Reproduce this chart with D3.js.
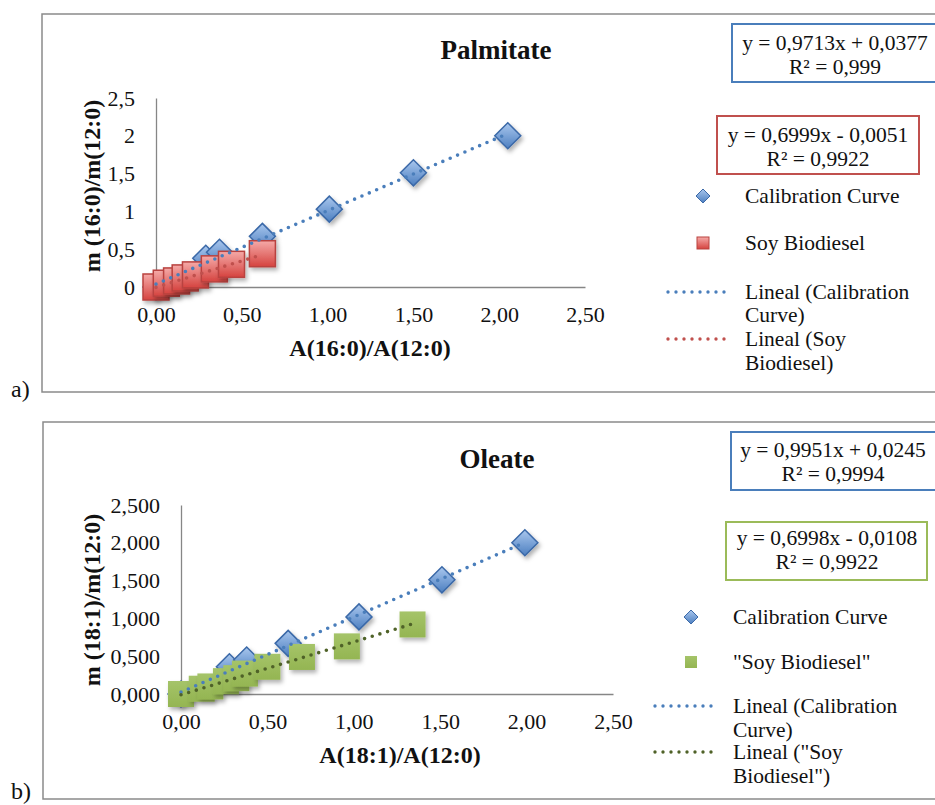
<!DOCTYPE html>
<html>
<head>
<meta charset="utf-8">
<script src="https://cdn.jsdelivr.net/npm/d3@7"></script>
<style>
  html, body { margin: 0; padding: 0; background: #fff; }
  svg { display: block; }
  text { font-family: "Liberation Serif", "Times New Roman", serif; fill: #111; }
</style>
</head>
<body>
<script>
// ---- data ----
const palCalX = [0, 0.29, 0.37, 0.62, 1.01, 1.50, 2.05];
const palCalY = [0, 0.38, 0.46, 0.67, 1.03, 1.51, 2.00];
const palSoyX = [0, 0.06, 0.12, 0.17, 0.23, 0.34, 0.44, 0.62];
const palSoyY = [0, 0.05, 0.08, 0.12, 0.16, 0.24, 0.30, 0.44];

const oleCalX = [0, 0.28, 0.38, 0.62, 1.03, 1.51, 1.99];
const oleCalY = [0, 0.36, 0.45, 0.67, 1.02, 1.51, 2.00];
const oleSoyX = [0, 0.12, 0.17, 0.26, 0.32, 0.37, 0.50, 0.70, 0.96, 1.34];
const oleSoyY = [0, 0.07, 0.10, 0.17, 0.21, 0.27, 0.36, 0.49, 0.63, 0.92];

// trendline coefficients [slope, intercept] as printed on the chart
const palCalFit = [0.9713, 0.0377];
const palSoyFit = [0.6999, -0.0051];
const oleCalFit = [0.9951, 0.0245];
const oleSoyFit = [0.6998, -0.0108];

const xTicks = [0, 0.5, 1, 1.5, 2, 2.5];
const yTicks = [0, 0.5, 1, 1.5, 2, 2.5];

const W = 935, H = 805;
const svg = d3.select('body').append('svg').attr('width', W).attr('height', H);
const defs = svg.append('defs');

const shadow = defs.append('filter').attr('id', 'shadow')
  .attr('x', '-50%').attr('y', '-50%').attr('width', '200%').attr('height', '200%');
shadow.append('feDropShadow').attr('dx', 2).attr('dy', 3).attr('stdDeviation', 2)
  .attr('flood-color', '#000').attr('flood-opacity', 0.3);

function grad(id, top, bottom) {
  const g = defs.append('linearGradient').attr('id', id)
    .attr('x1', 0).attr('y1', 0).attr('x2', 0).attr('y2', 1);
  g.append('stop').attr('offset', '0%').attr('stop-color', top);
  g.append('stop').attr('offset', '100%').attr('stop-color', bottom);
}
grad('gBlue', '#a9c7ee', '#4d7fc0');
grad('gRed', '#f5aaa8', '#d5433f');
grad('gGreen', '#a5c469', '#94b552');

const diamond = r => `M0,${-r}L${r},0L0,${r}L${-r},0Z`;

function drawPanel(cfg) {
  const g = svg.append('g');

  // outer frame
  g.append('rect')
    .attr('x', cfg.frame[0]).attr('y', cfg.frame[1])
    .attr('width', cfg.frame[2]).attr('height', cfg.frame[3])
    .attr('fill', 'none').attr('stroke', '#8a8a8a').attr('stroke-width', 1.5);

  const x = d3.scaleLinear().domain([0, 2.5]).range(cfg.xRange);
  const y = d3.scaleLinear().domain([0, 2.5]).range(cfg.yRange);

  // axes
  const xAxis = g.append('g').attr('transform', `translate(0,${cfg.yRange[0]})`)
    .call(d3.axisBottom(x).tickValues(xTicks).tickSize(0).tickPadding(19)
      .tickFormat(d => d.toFixed(2).replace('.', ',')));
  const yAxis = g.append('g').attr('transform', `translate(${cfg.xRange[0]},0)`)
    .call(d3.axisLeft(y).tickValues(yTicks).tickSize(0).tickPadding(21)
      .tickFormat(cfg.yFmt));
  [xAxis, yAxis].forEach(a => {
    a.select('.domain').attr('stroke', '#868686').attr('stroke-width', 1.3);
    a.selectAll('text').attr('font-size', 22)
      .style('font-family', '"Liberation Serif", serif').attr('fill', '#111');
  });

  // titles
  g.append('text').attr('x', cfg.title[1]).attr('y', cfg.title[2])
    .attr('text-anchor', 'middle').attr('font-weight', 'bold').attr('font-size', 27)
    .text(cfg.title[0]);
  g.append('text').attr('x', cfg.xTitle[1]).attr('y', cfg.xTitle[2])
    .attr('text-anchor', 'middle').attr('font-weight', 'bold').attr('font-size', 24)
    .text(cfg.xTitle[0]);
  g.append('text')
    .attr('transform', `translate(${cfg.yTitle[1]},${cfg.yTitle[2]}) rotate(-90)`)
    .attr('text-anchor', 'middle').attr('font-weight', 'bold').attr('font-size', 24)
    .text(cfg.yTitle[0]);

  const cal = cfg.calX.map((v, i) => ({ x: v, y: cfg.calY[i] }));
  const soy = cfg.soyX.map((v, i) => ({ x: v, y: cfg.soyY[i] }));

  // calibration diamonds
  g.append('g').selectAll('path').data(cal).join('path')
    .attr('d', diamond(13))
    .attr('transform', d => `translate(${x(d.x)},${y(d.y)})`)
    .attr('fill', 'url(#gBlue)').attr('stroke', '#3b69a8').attr('stroke-width', 1.5)
    .attr('filter', 'url(#shadow)');

  // sample squares
  g.append('g').selectAll('rect').data(soy).join('rect')
    .attr('x', d => x(d.x) - 13).attr('y', d => y(d.y) - 13)
    .attr('width', 26).attr('height', 26)
    .attr('fill', cfg.soyFill).attr('stroke', cfg.soyStroke).attr('stroke-width', 1.5)
    .attr('filter', 'url(#shadow)');

  // trendlines
  const line = d3.line().x(d => x(d[0])).y(d => y(d[1]));
  const trend = (xs, fit) => {
    const a = d3.min(xs), b = d3.max(xs);
    return [[a, fit[0] * a + fit[1]], [b, fit[0] * b + fit[1]]];
  };
  [[cfg.calX, cfg.calFit, '#4a7ebb'], [cfg.soyX, cfg.soyFit, cfg.soyLine]].forEach(([xs, fit, col]) => {
    g.append('path').attr('d', line(trend(xs, fit)))
      .attr('fill', 'none').attr('stroke', col).attr('stroke-width', 3.6)
      .attr('stroke-dasharray', '0,8').attr('stroke-linecap', 'round');
  });

  // equation boxes
  cfg.eqs.forEach(e => {
    g.append('rect').attr('x', e.box[0]).attr('y', e.box[1])
      .attr('width', e.box[2]).attr('height', e.box[3])
      .attr('fill', '#fff').attr('stroke', e.color).attr('stroke-width', 2);
    e.lines.forEach((t, i) => {
      g.append('text').attr('x', e.cx).attr('y', e.y0 + i * 23.5)
        .attr('text-anchor', 'middle').attr('font-size', 21.5).text(t);
    });
  });

  // legend
  const L = cfg.legend;
  g.append('path').attr('d', diamond(7))
    .attr('transform', `translate(${L.mx},${L.y[0]})`)
    .attr('fill', 'url(#gBlue)').attr('stroke', '#3b69a8').attr('stroke-width', 1);
  g.append('rect').attr('x', L.mx - 6).attr('y', L.y[1] - 6).attr('width', 12).attr('height', 12)
    .attr('fill', cfg.soyFill).attr('stroke', cfg.soyStroke).attr('stroke-width', 1);
  [[L.y[2], '#4a7ebb'], [L.y[4], cfg.soyLine]].forEach(([yy, col]) => {
    g.append('line').attr('x1', L.l0).attr('x2', L.l1).attr('y1', yy).attr('y2', yy)
      .attr('stroke', col).attr('stroke-width', 3.4)
      .attr('stroke-dasharray', '0,8').attr('stroke-linecap', 'round');
  });
  L.labels.forEach((t, i) => {
    g.append('text').attr('x', L.tx).attr('y', L.y[i]).attr('dy', '0.33em')
      .attr('font-size', 21.5).text(t);
  });

  g.append('text').attr('x', cfg.tag[1]).attr('y', cfg.tag[2])
    .attr('font-size', 24).text(cfg.tag[0]);
}

drawPanel({
  frame: [42, 14, 920, 378],
  xRange: [156, 585], yRange: [287, 98],
  yFmt: d => String(d).replace('.', ','),
  title: ['Palmitate', 496, 59],
  xTitle: ['A(16:0)/A(12:0)', 370, 356],
  yTitle: ['m (16:0)/m(12:0)', 100, 186],
  calX: palCalX, calY: palCalY, soyX: palSoyX, soyY: palSoyY,
  calFit: palCalFit, soyFit: palSoyFit,
  soyFill: 'url(#gRed)', soyStroke: '#b9423f', soyLine: '#c0504d',
  eqs: [
    { box: [732, 24, 210, 58], color: '#4a7ebb', cx: 835, y0: 50,
      lines: ['y = 0,9713x + 0,0377', 'R² = 0,999'] },
    { box: [717, 116, 202, 58], color: '#c0504d', cx: 818, y0: 142,
      lines: ['y = 0,6999x - 0,0051', 'R² = 0,9922'] }
  ],
  legend: { mx: 703, tx: 745, l0: 668, l1: 732, y: [196, 243, 292, 315, 339, 363],
    labels: ['Calibration Curve', 'Soy Biodiesel', 'Lineal (Calibration', 'Curve)', 'Lineal (Soy', 'Biodiesel)'] },
  tag: ['a)', 11, 397]
});

drawPanel({
  frame: [43, 422, 920, 377],
  xRange: [181, 613], yRange: [694, 505],
  yFmt: d => d.toFixed(3).replace('.', ','),
  title: ['Oleate', 497, 468],
  xTitle: ['A(18:1)/A(12:0)', 400, 763],
  yTitle: ['m (18:1)/m(12:0)', 100, 600],
  calX: oleCalX, calY: oleCalY, soyX: oleSoyX, soyY: oleSoyY,
  calFit: oleCalFit, soyFit: oleSoyFit,
  soyFill: 'url(#gGreen)', soyStroke: 'none', soyLine: '#4f6228',
  eqs: [
    { box: [731, 432, 210, 58], color: '#4a7ebb', cx: 833, y0: 457,
      lines: ['y = 0,9951x + 0,0245', 'R² = 0,9994'] },
    { box: [726, 522, 201, 58], color: '#9bbb59', cx: 827, y0: 545,
      lines: ['y = 0,6998x - 0,0108', 'R² = 0,9922'] }
  ],
  legend: { mx: 691, tx: 733, l0: 655, l1: 719, y: [617, 662, 706, 730, 752, 776],
    labels: ['Calibration Curve', '"Soy Biodiesel"', 'Lineal (Calibration', 'Curve)', 'Lineal ("Soy', 'Biodiesel")'] },
  tag: ['b)', 11, 799]
});
</script>
</body>
</html>
